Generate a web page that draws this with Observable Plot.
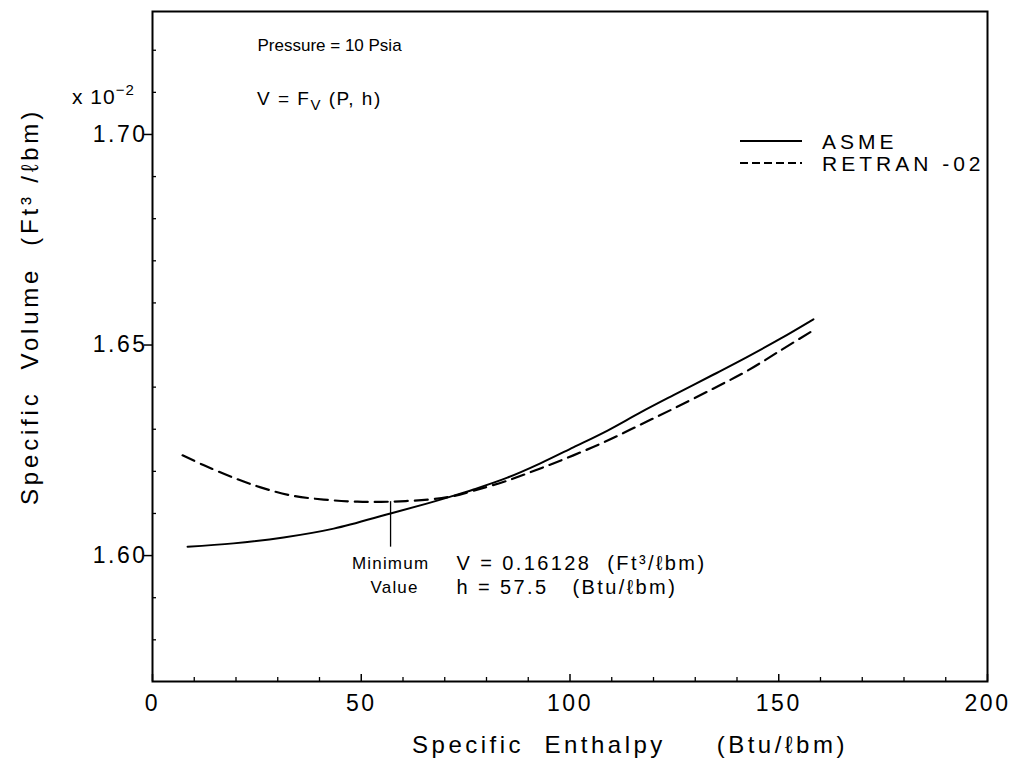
<!DOCTYPE html>
<html>
<head>
<meta charset="utf-8">
<script src="https://cdn.jsdelivr.net/npm/d3@7"></script>
<script src="https://cdn.jsdelivr.net/npm/@observablehq/plot@0.6"></script>
<style>
  body { margin: 0; background: #fff; }
  #chart { width: 1019px; height: 769px; }
  #chart svg text { fill: #000; }
</style>
</head>
<body>
<div id="chart"></div>
<script>
// ---------- data ----------
const seriesNames = ["ASME", "RETRAN -02"];
const asmeH = [8.4, 19.4, 31.4, 43.4, 57.0, 65.9, 71.4, 76.9, 85.0, 92.9, 100.8, 109.0, 116.9, 124.8, 134.4, 142.5, 150.4, 158.3];
const asmeV = [1.6021, 1.6029, 1.6043, 1.6064, 1.6100, 1.6124, 1.6140, 1.6157, 1.6185, 1.6219, 1.6257, 1.6297, 1.6340, 1.6381, 1.6430, 1.6472, 1.6515, 1.6561];
const retranH = [7.2, 12.2, 19.4, 25.9, 33.1, 41.0, 49.1, 57.0, 65.9, 71.4, 76.9, 85.0, 92.9, 100.8, 109.0, 116.9, 124.8, 134.4, 142.5, 150.4, 158.1];
const retranV = [1.6238, 1.6215, 1.6185, 1.6162, 1.6143, 1.6133, 1.6128, 1.6128, 1.6133, 1.6140, 1.6154, 1.6178, 1.6207, 1.6238, 1.6273, 1.6311, 1.6349, 1.6397, 1.6439, 1.6487, 1.6534];
const xMajor = [0, 50, 100, 150, 200];
const xMinor = [10, 20, 30, 40, 60, 70, 80, 90, 110, 120, 130, 140, 160, 170, 180, 190];
const yMajor = [1.60, 1.65, 1.70];
const yMinor = [1.58, 1.59, 1.61, 1.62, 1.63, 1.64, 1.66, 1.67, 1.68, 1.69, 1.71, 1.72];
const xDomain = [0, 200];
const yDomain = [1.5701, 1.7292];
const minH = 57.5;       // Btu/lbm
const minV = 1.6128;     // x 10^-2 ft3/lbm
const minLow = 1.6020;   // lower end of the pointer
const pressureLabel = "Pressure = 10 Psia";
const minLabel1 = "Minimum";
const minLabel2 = "Value";
const xTitle = "Specific\u00a0\u00a0Enthalpy\u00a0\u00a0\u00a0\u00a0\u00a0(Btu/\u2113bm)";
const yTitle = "Specific\u00a0\u00a0Volume\u00a0\u00a0(Ft\u00b3 /\u2113bm)";

const asme = asmeH.map((h, i) => ({h, v: asmeV[i]}));
const retran = retranH.map((h, i) => ({h, v: retranV[i]}));

// ---------- layout ----------
const W = 1019, H = 769;
const mL = 152, mR = 32, mT = 11, mB = 88;
const pW = W - mL - mR, pH = H - mT - mB;
const FONT = "'Liberation Sans', Arial, sans-serif";
const sp = "\u00a0\u00a0";
const vLabel = `V = ${(minV / 10).toFixed(5)}${sp}(Ft\u00b3/\u2113bm)`;
const hLabel = `h = ${minH}${sp}\u00a0(Btu/\u2113bm)`;

const plot = Plot.plot({
  width: W, height: H,
  marginLeft: mL, marginRight: mR, marginTop: mT, marginBottom: mB,
  style: {fontFamily: FONT, background: "white", color: "black"},
  x: {domain: xDomain},
  y: {domain: yDomain},
  marks: [
    Plot.frame({stroke: "black", strokeWidth: 2}),
    Plot.ruleX(xMinor, {stroke: "black", strokeWidth: 1.3, insetTop: pH - 4}),
    Plot.ruleX(xMajor, {stroke: "black", strokeWidth: 1.5, insetTop: pH - 7}),
    Plot.ruleY(yMinor, {stroke: "black", strokeWidth: 1.3, insetRight: pW - 4}),
    Plot.axisX(xMajor, {tickSize: 0, tickPadding: 13, fontSize: 23, label: null, tickFormat: d => String(d)}),
    Plot.axisY(yMajor, {tickSize: 8, tickPadding: -3, fontSize: 23, strokeWidth: 1.5, label: null, tickFormat: d => d.toFixed(2)}),
    Plot.line(asme, {x: "h", y: "v", stroke: "black", strokeWidth: 2, curve: "catmull-rom"}),
    Plot.line(retran, {x: "h", y: "v", stroke: "black", strokeWidth: 2.2, strokeDasharray: "13,7", curve: "catmull-rom"}),
    Plot.ruleX([minH], {y1: minV, y2: minLow, stroke: "black", strokeWidth: 1.3, dx: -2}),
    Plot.text([minLabel1], {x: () => minH, y: () => minV, dy: 62, dx: -2, fontSize: 17, textAnchor: "middle"}),
    Plot.text([minLabel2], {x: () => minH, y: () => minV, dy: 86, dx: 2, fontSize: 17, textAnchor: "middle"}),
    Plot.text([vLabel], {x: () => minH, y: () => minV, dy: 62, dx: 64, fontSize: 20, textAnchor: "start"}),
    Plot.text([hLabel], {x: () => minH, y: () => minV, dy: 86, dx: 64, fontSize: 20, textAnchor: "start"}),
    Plot.text([pressureLabel], {frameAnchor: "top-left", dx: 105, dy: 34, fontSize: 17, textAnchor: "start", lineAnchor: "middle"}),
    Plot.text([xTitle], {frameAnchor: "bottom", dx: 60, dy: 64, fontSize: 24, textAnchor: "middle", lineAnchor: "middle"}),
    Plot.text([yTitle], {frameAnchor: "left", dx: -122, dy: -40, rotate: -90, fontSize: 24, textAnchor: "middle", lineAnchor: "middle"})
  ]
});

document.getElementById("chart").appendChild(plot);

const svg = d3.select(plot);
svg.selectAll("text").attr("fill", "black");
// plotter-like wide spacing
svg.selectAll("g[aria-label='x-axis tick label'] text, g[aria-label='y-axis tick label'] text").attr("letter-spacing", 2.5);
const spacingByText = new Map([
  [minLabel1, 1.2], [minLabel2, 1.2],
  [vLabel, 2.4], [hLabel, 2.4],
  [xTitle, 3.5], [yTitle, 3.8]
]);
svg.selectAll("text").each(function() {
  const ls = spacingByText.get(this.textContent);
  if (ls != null) this.setAttribute("letter-spacing", ls);
});

// rich-text annotations (sub/superscripts)
const ann = svg.append("g").attr("font-family", FONT).attr("fill", "black").attr("text-anchor", "start");
const t1 = ann.append("text").attr("x", 72).attr("y", 104).attr("font-size", 21).attr("letter-spacing", 1);
t1.append("tspan").text("x 10");
t1.append("tspan").attr("dy", -9).attr("font-size", 15).text("\u22122");

const t2 = ann.append("text").attr("x", 257).attr("y", 105).attr("font-size", 19).attr("letter-spacing", 1.5);
t2.append("tspan").text("V = F");
t2.append("tspan").attr("dy", 5).attr("font-size", 15).text("V");
t2.append("tspan").attr("dy", -5).text(" (P, h)");

// legend
const leg = svg.append("g").attr("font-family", FONT).attr("font-size", 21).attr("letter-spacing", 4).attr("text-anchor", "start");
[[141, null], [163, "8,4"]].forEach(([y, dash], i) => {
  leg.append("line").attr("x1", 740).attr("x2", 802).attr("y1", y).attr("y2", y)
    .attr("stroke", "black").attr("stroke-width", 2).attr("stroke-dasharray", dash);
  leg.append("text").attr("x", 822).attr("y", y).attr("dy", "0.36em").text(seriesNames[i]);
});
</script>
</body>
</html>
